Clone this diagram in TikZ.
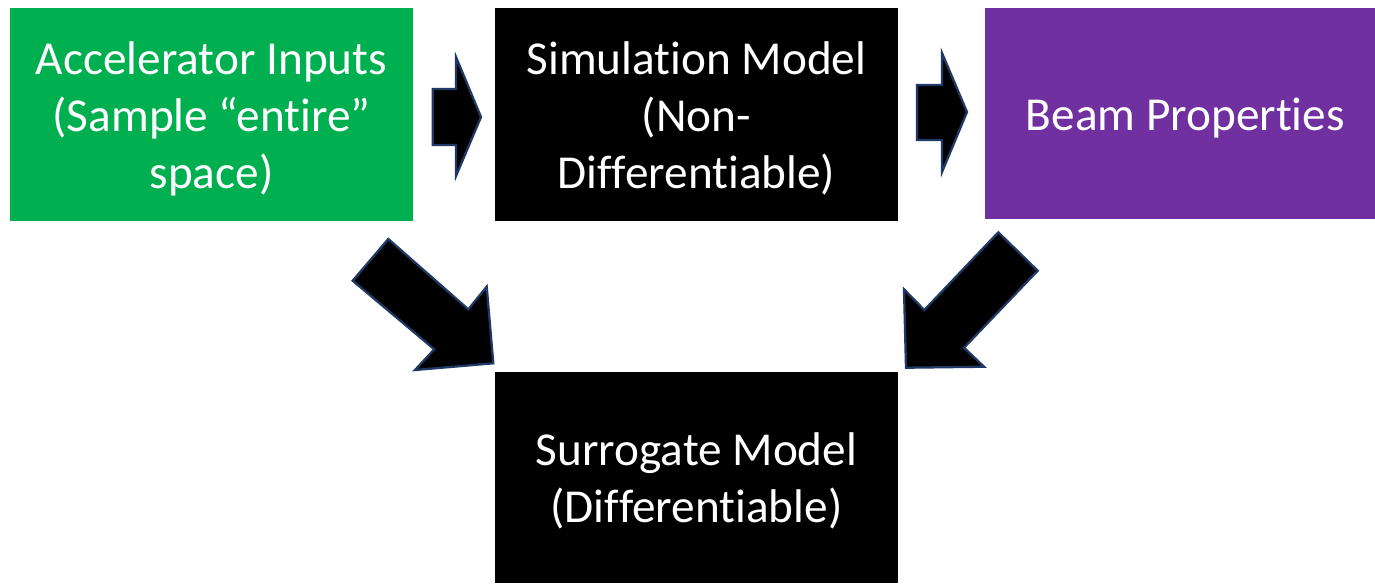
\documentclass[tikz,border=0pt]{standalone}
\usepackage{fontspec}
\setmainfont{Carlito}[Ligatures=NoCommon]
% a zero kern that keeps letter pairs from being joined into one glyph
\newcommand\nolig{\kern0pt }
\definecolor{officegreen}{HTML}{00B050}
\definecolor{officepurple}{HTML}{7030A0}
\definecolor{arrowrim}{HTML}{1F3864}
\begin{document}
\begin{tikzpicture}[x=0.02cm,y=-0.02cm,
  block/.style={inner sep=0pt, outer sep=0pt},
  caption/.style={inner sep=0pt, align=center, text=white,
    font=\fontsize{26.9}{32.4}\selectfont},
  blockarrow/.style={fill=black, draw=arrowrim, line width=1.3pt, line join=miter}]
\useasboundingbox (0,0) rectangle (1375,583);

% process boxes
\node[block, fill=officegreen, minimum width=8.06cm, minimum height=4.26cm]
  (inputs) at (211.5,114.5) {};
\node[block, fill=black, minimum width=8.06cm, minimum height=4.26cm]
  (sim) at (696.5,114.5) {};
\node[block, fill=officepurple, minimum width=7.8cm, minimum height=4.22cm]
  (beam) at (1180,113.5) {};
\node[block, fill=black, minimum width=8.06cm, minimum height=4.22cm]
  (surr) at (696.5,477.5) {};

% box captions, set a little below the box centres
\node[caption] (inputstext) at ([yshift=-2.4pt]inputs.center) {Accelerator Inputs\\(Sample “entire”\\space)};
\node[caption] (simtext) at ([yshift=-2.4pt]sim.center) {Simulat\nolig ion Model\\(Non-\\Dif\nolig ferent\nolig iable)};
\node[caption] (beamtext) at ([xshift=3pt,yshift=-2.4pt]beam.center) {Beam Propert\nolig ies};
\node[caption] (surrtext) at ([yshift=-2.0pt]surr.center) {Surrogate Model\\(Dif\nolig ferent\nolig iable)};

% block arrows between the boxes
\draw[blockarrow] (432.7,89) -- (456,89) -- (456,57) -- (481,117)
  -- (456,176) -- (456,145) -- (432.7,145) -- cycle;
\draw[blockarrow] (917,85) -- (942,85) -- (942,53) -- (967,112)
  -- (942,172) -- (942,140) -- (917,140) -- cycle;
\draw[blockarrow] (388.3,239) -- (468.3,309.3) -- (486.7,286.7) -- (493.3,363.3)
  -- (415,370) -- (434.3,349.3) -- (352.7,280.7) -- cycle;
\draw[blockarrow] (998.3,232.3) -- (1037.7,270.7) -- (964,347.7) -- (984,366.7)
  -- (906,367.7) -- (904,289.3) -- (924.3,310) -- cycle;
\end{tikzpicture}
\end{document}
